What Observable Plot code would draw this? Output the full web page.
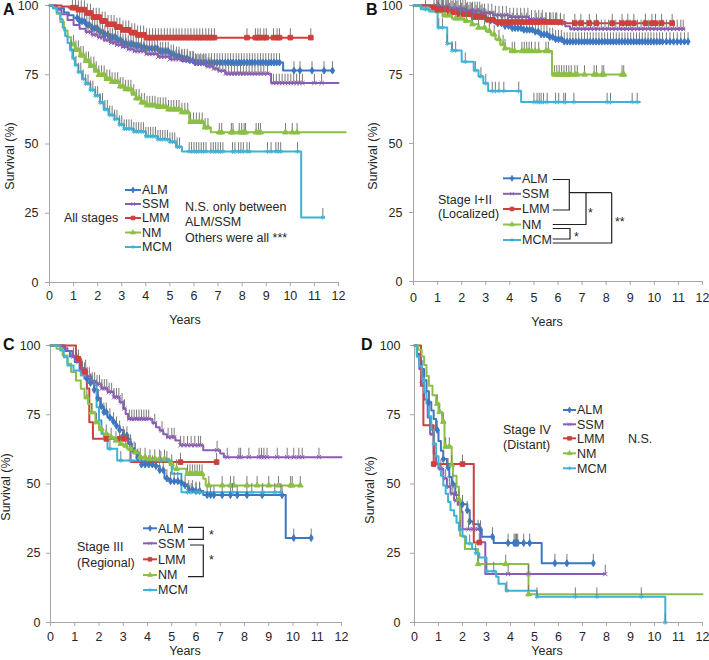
<!DOCTYPE html>
<html><head><meta charset="utf-8">
<script src="https://cdn.jsdelivr.net/npm/d3@7"></script>
<script src="https://cdn.jsdelivr.net/npm/@observablehq/plot@0.6"></script>
<style>
body{margin:0;background:#fff;font-family:"Liberation Sans",Arial,sans-serif}
#wrap{position:relative;width:709px;height:660px;overflow:hidden}
.panel{position:absolute}
svg{overflow:visible}
</style></head><body><div id="wrap"></div>
<script>
const names = ["ALM","SSM","LMM","NM","MCM"];
const colors = ["#3d77c2","#8a5db3","#cf3f3b","#8cbf47","#3fb3d6"];
const symbols = ["diamond","times","square","triangle","asterisk"];
const xTicks = [0,1,2,3,4,5,6,7,8,9,10,11,12];
const yTicks = [0,25,50,75,100];

// ---------- Panel A: All stages ----------
const A_ALM = [[0,100],[0.3,99],[0.6,97.5],[0.8,96.5],[1,95.5],[1.25,94.3],[1.5,93],[1.75,91.8],[2,90.5],[2.25,89.5],[2.5,88.5],[2.75,87.5],[3,86.5],[3.25,86],[3.5,85.5],[3.75,85],[4,84.5],[4.5,83.5],[5,82.5],[5.25,81.8],[5.5,81],[5.75,80.2],[6,79.4],[9.7,76.5],[11.8,76.5]];
const A_SSM = [[0,100],[0.3,98.5],[0.5,96.8],[0.75,94.8],[1,93],[1.25,91.6],[1.5,90.4],[1.75,89.4],[2,88.5],[2.25,87.5],[2.5,86.6],[2.75,85.8],[3,85],[3.25,84.2],[3.5,83.5],[4,82.5],[4.5,81.5],[5,80.6],[5.5,80],[6,79],[6.5,78],[6.8,77.2],[7,76.4],[7.3,75.4],[9.2,72],[12,72]];
const A_LMM = [[0,100],[0.5,99.6],[0.8,99.2],[1.2,98.5],[1.5,97.3],[1.8,95.8],[2.1,94.4],[2.4,93.2],[2.7,92.2],[3,91.2],[3.3,90.2],[3.6,89.4],[4,88.4],[10.85,88.4]];
const A_NM = [[0,100],[0.15,99],[0.3,97],[0.45,94],[0.6,91],[0.75,88.5],[0.9,86],[1.05,84],[1.25,82],[1.45,80],[1.65,78.2],[1.85,76.5],[2.05,75],[2.3,73.5],[2.6,72.5],[2.9,70.8],[3.1,69.8],[3.4,68.2],[3.6,66.5],[3.8,65],[4,64],[4.5,63.5],[4.9,62.5],[5.5,61.5],[5.8,58],[6.4,56],[6.7,54.2],[12.3,54.2]];
const A_MCM = [[0,100],[0.15,99],[0.3,97.5],[0.45,95],[0.55,92],[0.65,89],[0.75,86.5],[0.85,84],[0.95,81],[1.05,78.5],[1.2,76],[1.35,73.5],[1.5,71.8],[1.7,69.5],[1.9,67.5],[2.1,65],[2.25,62.5],[2.45,60.5],[2.7,59],[2.9,57],[3.1,55.5],[3.5,54.5],[4,52.8],[4.5,51.7],[5,50.8],[5.25,49],[5.5,47.3],[10.45,23.5],[11.4,23.5]];
const A_ALM_c = [1.15,1.25,1.35,1.45,1.55,1.65,1.78,1.88,1.98,2.1,2.2,2.3,2.42,2.52,2.62,2.74,2.84,2.95,3.05,3.16,3.27,3.38,3.48,3.6,3.7,3.82,3.93,4.04,4.15,4.26,4.37,4.48,4.6,4.7,4.82,4.93,5.05,5.15,5.27,5.38,5.5,5.6,5.72,5.83,5.95,6.06,6.17,6.28,6.4,6.5,6.62,6.73,6.85,6.96,7.07,7.18,7.3,7.41,7.52,7.63,7.75,7.86,7.97,8.08,8.2,8.31,8.42,8.53,8.65,8.76,8.87,8.98,9.1,9.21,9.32,9.43,9.55,10.15,10.4,10.9,11.4,11.75];
const A_SSM_c = [1.6,1.72,1.84,1.96,2.08,2.2,2.33,2.45,2.57,2.69,2.81,2.93,3.06,3.18,3.3,3.42,3.54,3.66,3.79,3.91,4.03,4.15,4.27,4.4,4.52,4.64,4.76,4.88,5.0,5.13,5.25,5.37,5.49,5.61,5.73,5.86,5.98,6.1,6.22,6.34,6.46,6.59,6.71,6.83,6.95,7.07,7.2,7.32,7.44,7.56,7.68,7.8,7.93,8.05,8.17,8.29,8.41,8.53,8.66,8.78,8.9,9.05,9.3,9.42,9.54,9.66,9.78,9.9,10.02,10.14,10.26,10.38,10.5,11.0,11.3];
const A_LMM_c = [0.95,1.08,1.2,1.32,1.45,1.57,1.7,1.82,1.94,2.06,2.19,2.31,2.43,2.56,2.68,2.8,2.92,3.05,3.17,3.29,3.42,3.54,3.66,3.78,3.91,4.03,4.15,4.28,4.4,4.52,4.64,4.77,4.89,5.01,5.14,5.26,5.38,5.5,5.63,5.75,5.87,6.0,6.12,6.24,6.36,6.49,6.61,6.73,6.85,8.2,8.55,8.65,8.75,8.9,9.0,9.3,9.45,9.55,10.0,10.85];
const A_NM_c = [1.0,1.1,1.2,1.3,1.4,1.52,1.62,1.72,1.84,1.94,2.05,2.16,2.27,2.38,2.5,2.6,2.72,2.83,2.94,3.05,3.16,3.27,3.38,3.5,3.6,3.72,3.83,3.94,4.05,4.16,4.27,4.38,4.5,4.6,4.72,4.83,4.94,5.05,5.16,5.27,5.38,5.5,5.62,5.74,5.86,5.98,6.1,6.22,6.34,6.46,6.58,7.05,7.15,7.55,7.62,7.88,7.98,8.08,8.14,8.58,8.68,8.76,9.8,10.08,10.28];
const A_MCM_c = [0.9,1.0,1.1,1.2,1.3,1.4,1.5,1.6,1.7,1.8,1.9,2.0,2.1,2.2,2.3,2.4,2.5,2.6,2.7,2.8,2.9,3.0,3.1,3.2,3.3,3.4,3.5,3.6,3.7,3.8,3.9,4.0,4.1,4.2,4.3,4.4,4.5,4.6,4.7,4.8,4.9,5.0,5.1,5.2,5.3,5.4,5.8,5.9,6.0,6.1,6.2,6.3,6.4,6.5,6.7,6.8,6.9,7.0,7.1,7.2,7.6,7.7,7.85,7.95,8.05,8.2,8.3,9.05,9.2,9.4,9.5,9.6,10.3,11.35];

// ---------- Panel B: Stage I+II ----------
const B_ALM = [[0,100],[0.8,99.5],[1.2,99],[1.6,98.3],[2,97.6],[2.5,96.8],[2.9,95.5],[3.2,94.5],[3.5,93.5],[3.8,92.6],[4.1,91.8],[4.5,91.2],[5,90.5],[5.3,89.5],[5.6,88.6],[5.9,87.8],[6.2,86.9],[11.45,86.9]];
const B_SSM = [[0,100],[1.0,99.5],[1.5,98.8],[2.2,98],[2.8,97.3],[3.3,96.5],[4,95.8],[4.8,95],[5.5,94.2],[6,93.5],[6.3,92.5],[6.5,91.5],[11.25,91.5]];
const B_LMM = [[0,100],[0.7,99.3],[1.0,98.5],[1.4,97.6],[1.9,96.8],[2.5,95.8],[3.0,94.8],[3.4,94.0],[6.3,93.6],[10.8,93.6]];
const B_NM = [[0,100],[0.3,99.3],[0.6,98.5],[0.9,97.5],[1.2,96.4],[1.6,95.3],[2.1,94.4],[2.4,93.2],[2.7,92],[3.0,90.8],[3.2,89.5],[3.4,87.8],[3.6,86],[3.8,84.5],[4.0,83.5],[5.75,75],[8.8,75]];
const B_MCM = [[0,100],[0.3,98.6],[0.65,97.8],[1.0,92],[1.4,86.2],[1.6,83.7],[2.0,79.6],[2.5,76.5],[2.7,74.3],[2.9,71.8],[3.1,69],[4.47,65],[9.4,65]];
const B_ALM_c = [1.05,1.2,1.4,1.6,1.8,2.0,2.2,2.4,2.6,2.8,3.0,3.2,3.35,3.5,3.65,3.8,3.95,4.1,4.22,4.34,4.46,4.58,4.7,4.82,4.94,5.06,5.18,5.3,5.42,5.54,5.66,5.78,5.9,6.02,6.14,6.26,6.38,6.5,6.62,6.74,6.86,6.98,7.1,7.22,7.34,7.46,7.58,7.7,7.82,7.94,8.06,8.18,8.3,8.42,8.54,8.66,8.78,8.9,9.02,9.14,9.26,9.38,9.5,9.62,9.74,9.86,9.98,10.1,10.22,10.34,10.5,10.65,10.8,10.95,11.1,11.25,11.4];
const B_SSM_c = [0.95,1.05,1.15,1.25,1.35,1.45,1.55,1.65,1.75,1.85,1.95,2.05,2.15,2.25,2.35,2.45,2.55,2.65,2.75,2.85,2.95,3.1,3.25,3.4,3.55,3.7,3.85,4.0,4.15,4.3,4.45,4.6,4.75,4.9,5.05,5.2,5.35,5.5,5.65,5.8,5.95,6.1,6.25,6.6,6.75,6.9,7.05,7.2,7.35,7.5,7.65,7.8,7.95,8.1,8.25,8.4,8.55,8.7,8.85,9.0,9.15,9.3,9.45,9.6,9.75,9.9,10.05,10.2,10.35,10.5,10.65,10.8,10.95,11.1,11.2];
const B_LMM_c = [0.85,1.0,1.2,1.35,1.5,1.7,1.9,2.1,2.3,2.5,2.7,2.9,3.1,3.3,3.5,3.7,3.9,4.1,4.3,4.5,4.7,4.9,5.1,5.3,5.5,5.7,5.9,6.1,6.7,6.95,7.3,7.6,8.25,8.66,8.9,9.15,9.63,9.9,10.05,10.3,10.74];
const B_NM_c = [1.3,1.5,1.75,1.95,2.2,2.45,2.7,2.95,3.15,3.35,3.55,3.72,3.8,4.1,4.2,4.5,4.6,4.7,4.8,4.9,5.05,5.2,5.5,5.6,5.85,5.95,6.05,6.15,6.25,6.35,6.45,6.55,6.7,6.8,7.1,7.5,7.6,7.83,7.9,8.66,8.73];
const B_MCM_c = [0.5,1.05,1.2,1.4,1.6,1.75,2.15,2.57,2.8,3.0,3.27,3.4,3.55,3.75,4.37,5.0,5.13,5.22,5.3,5.4,5.55,5.9,6.03,6.24,6.31,6.66,8.04,8.18,9.08,9.29];

// ---------- Panel C: Stage III ----------
const C_ALM = [[0,100],[0.6,98],[0.8,96],[1.0,94],[1.2,91],[1.4,88],[1.6,86.5],[1.8,84],[1.95,81],[2.05,78],[2.2,76],[2.35,74],[2.55,72.5],[2.7,71],[2.85,69.5],[3.0,67.5],[3.2,64.5],[3.35,62],[3.55,59.5],[3.75,57],[4.3,56.5],[4.5,55],[4.7,52],[4.9,51],[5.3,50.5],[5.5,49.5],[5.7,48],[6.0,47.5],[6.3,46],[9.7,30.5],[10.75,30.5]];
const C_SSM = [[0,100],[0.5,99],[0.7,98],[0.9,96],[1.1,94],[1.3,91.5],[1.5,88.8],[1.7,87],[1.9,86],[2.1,84.5],[2.35,83.2],[2.6,81.3],[2.85,79.5],[3.0,77.2],[3.1,75.3],[3.2,73.5],[4.2,72],[4.35,70.5],[4.5,69.3],[4.65,68],[4.8,66.9],[5.15,65.7],[5.35,64],[6.3,62.2],[7.0,61],[7.15,59.7],[12,59.7]];
const C_LMM = [[0,100],[1.05,95.2],[1.25,90.5],[1.5,84.5],[1.6,72.3],[1.75,66.3],[3.3,57.9],[6.85,57.9]];
const C_NM = [[0,100],[0.25,98.8],[0.5,96.4],[0.7,93.4],[0.85,90.4],[1.05,87.4],[1.25,84.4],[1.4,81.3],[1.55,78.9],[1.7,75.9],[1.85,72.3],[2.0,69.9],[2.15,68.1],[2.4,66.9],[2.65,65.7],[2.85,64.5],[3.0,63.9],[3.15,62.7],[3.4,61.5],[3.65,59.7],[3.95,59.1],[4.9,57.3],[5.05,55.5],[5.6,53.7],[6.3,51.9],[6.4,49.5],[10.3,49.5]];
const C_MCM = [[0,100],[0.4,98.2],[0.55,95.8],[0.7,92.8],[0.95,91],[1.25,89.2],[1.5,87.4],[1.75,86.2],[1.9,77.7],[2.0,72.9],[2.1,68.1],[2.2,66.3],[2.35,62.7],[2.75,58.5],[5.0,53.7],[5.4,47],[9.55,47]];
const C_ALM_c = [1.5,1.65,1.8,1.95,2.1,2.2,2.3,2.45,2.6,2.72,2.85,3.0,3.15,3.3,3.45,3.6,3.75,3.9,4.05,4.2,4.35,4.5,4.65,4.8,4.95,5.1,5.25,5.4,5.55,5.7,5.85,6.0,6.15,6.46,6.6,6.74,7.08,7.42,7.7,8.1,8.73,9.55,10.03,10.75];
const C_SSM_c = [0.95,1.05,1.15,1.3,1.45,1.6,1.72,1.82,1.92,2.02,2.12,2.22,2.32,2.42,2.52,2.62,2.72,2.82,2.95,3.05,3.25,3.35,3.45,3.55,3.65,3.75,3.85,3.95,4.05,4.3,4.6,4.85,5.0,5.1,5.36,5.5,5.65,5.8,5.95,6.1,6.19,6.87,7.29,7.77,7.84,8.18,8.6,8.7,8.8,8.93,9.35,9.76,10.03,10.24,10.38,11.07];
const C_LMM_c = [1.15,1.4,2.3,2.85,3.05,5.36,6.85];
const C_NM_c = [1.5,1.7,1.9,2.1,2.3,2.5,2.7,2.9,3.1,3.3,3.5,3.7,3.9,4.1,4.3,4.5,4.7,5.0,5.2,5.65,5.75,5.85,5.95,6.05,6.15,6.25,6.53,7.08,7.42,7.56,8.1,8.52,9.0,9.4,9.9,9.97,10.3];
const C_MCM_c = [2.45,2.9,3.3,4.55,4.8,5.65,5.8,6.0,6.15,7.5,8.3,8.75,9.25,9.5];

// ---------- Panel D: Stage IV ----------
const D_ALM = [[0,100],[0.1,97],[0.2,94.5],[0.3,91.5],[0.4,87.5],[0.5,83.5],[0.6,79.5],[0.7,76.5],[0.8,73.5],[0.9,69.5],[1.0,65.5],[1.1,62],[1.2,59],[1.35,56],[1.45,52.5],[1.55,50],[1.7,46],[1.85,43],[2.0,42.7],[2.2,40.5],[2.3,36.5],[2.45,35.5],[2.7,33.5],[2.8,31],[3.3,28.7],[5.3,21.4],[7.45,21.4]];
const D_SSM = [[0,100],[0.1,96],[0.2,91.5],[0.3,86],[0.4,80.5],[0.55,74],[0.65,68],[0.8,61],[0.9,57.5],[1.0,55.5],[1.2,52],[1.35,49],[1.5,46.5],[1.65,44],[1.8,42.5],[1.95,40],[2.0,33.7],[2.75,29],[2.95,17.5],[7.95,17.5]];
const D_LMM = [[0,100],[0.27,85.5],[0.37,71.2],[0.8,57.2],[2.47,28.9],[2.7,28.9]];
const D_NM = [[0,100],[0.15,98.5],[0.3,96],[0.4,93],[0.5,89],[0.6,85.5],[0.75,82],[0.9,79],[1.0,76],[1.15,72.5],[1.25,63.5],[1.55,57],[1.6,53],[1.75,49],[1.85,44.5],[1.9,31.3],[2.1,26.5],[2.65,21.1],[4.75,10.2],[12,10.2]];
const D_MCM = [[0,100],[0.1,96],[0.2,92.5],[0.3,88],[0.4,83],[0.5,79],[0.6,74.5],[0.7,69.5],[0.8,64.5],[0.9,60],[1.0,56.5],[1.1,53],[1.2,49.5],[1.3,46.5],[1.4,43.5],[1.5,40.5],[1.65,38.5],[1.75,36],[1.85,33.5],[2.0,31],[2.15,28.5],[2.4,26.5],[2.55,25],[2.7,23.5],[3.0,18.5],[3.4,16.5],[3.5,14],[3.8,11.5],[5.1,9.3],[10.45,0]];
const D_ALM_c = [0.6,0.95,1.2,1.4,1.6,2.0,2.2,2.3,2.75,3.25,3.9,4.15,4.2,4.25,4.3,4.55,4.8,5.85,6.35,7.45];
const D_SSM_c = [0.3,0.75,1.1,1.3,1.45,1.6,1.75,2.25,2.45,2.65,3.9,4.75,7.95];
const D_LMM_c = [0.8,2.0,2.7];
const D_NM_c = [0.95,1.05,1.2,1.3,1.45,1.55,1.85,2.65,3.8,4.75];
const D_MCM_c = [0.35,0.8,1.9,2.3,2.55,3.0,3.3,3.85,5.1,6.7,7.6,9.45,10.45];

const d3Symbols = [d3.symbolDiamond, d3.symbolTimes, d3.symbolSquare, d3.symbolTriangle, d3.symbolAsterisk];
const FONT = '"Liberation Sans", Arial, sans-serif';

function stepAt(curve, t) {
  let v = curve[0][1];
  for (const [tt, s] of curve) if (tt <= t) v = s;
  return v;
}

function makePanel(cfg) {
  const marks = [
    Plot.axisX({ticks: xTicks, tickSize: 4, tickPadding: cfg.xPad, stroke: "#a6a6a6", fill: "#262626", fontSize: 12.5, label: null}),
    Plot.axisY({ticks: yTicks, tickSize: 4, tickPadding: cfg.yPad, stroke: "#a6a6a6", fill: "#262626", fontSize: 12.5, label: null}),
    Plot.ruleY([0], {stroke: "#a6a6a6"}),
    Plot.ruleX([0], {stroke: "#a6a6a6"})
  ];
  cfg.curves.forEach((c, i) => {
    marks.push(Plot.line(c, {x: d => d[0], y: d => d[1], curve: "step-after", stroke: colors[i], strokeWidth: 2}));
  });
  cfg.curves.forEach((c, i) => {
    const rows = cfg.cens[i].map(t => ({t, s: stepAt(c, t)}));
    marks.push(Plot.ruleX(rows, {x: "t", y1: "s", y2: d => d.s + 3.2, stroke: "#7a7a7a", strokeWidth: 1}));
    marks.push(Plot.dot(rows, {x: "t", y: "s", symbol: symbols[i], r: i === 2 ? 2.6 : 2.1, stroke: colors[i], fill: colors[i], strokeWidth: 1}));
  });
  const svg = Plot.plot({
    width: cfg.width, height: cfg.height,
    marginLeft: cfg.m[0], marginRight: cfg.m[1], marginTop: cfg.m[2], marginBottom: cfg.m[3],
    x: {domain: [0, 12]},
    y: {domain: [0, 100]},
    style: {fontFamily: FONT, fontSize: "12.5px", color: "#262626", background: "transparent", overflow: "visible"},
    marks
  });
  const div = document.createElement("div");
  div.className = "panel";
  div.style.left = cfg.left + "px";
  div.style.top = cfg.top + "px";
  div.appendChild(svg);
  document.getElementById("wrap").appendChild(div);

  const g = d3.select(svg).append("g").attr("font-family", FONT).attr("fill", "#262626");
  g.append("text").attr("x", cfg.letter[1]).attr("y", cfg.letter[2]).attr("font-size", 16).attr("font-weight", "bold").attr("fill", "#111").attr("text-anchor", "start").text(cfg.letter[0]);
  g.append("text").attr("transform", `translate(${cfg.yTitle[0]},${cfg.yTitle[1]}) rotate(-90)`).attr("text-anchor", "middle").attr("font-size", 12.5).text("Survival (%)");
  g.append("text").attr("x", cfg.xTitle[0]).attr("y", cfg.xTitle[1]).attr("dy", "0.35em").attr("text-anchor", "middle").attr("font-size", 12.5).text("Years");
  const L = cfg.legend;
  names.forEach((n, i) => {
    const y = L.ys[i];
    g.append("line").attr("x1", L.x1).attr("x2", L.x2).attr("y1", y).attr("y2", y).attr("stroke", colors[i]).attr("stroke-width", 2);
    g.append("path").attr("d", d3.symbol(d3Symbols[i], i === 2 ? 14 : 10)()).attr("transform", `translate(${(L.x1 + L.x2) / 2},${y})`).attr("fill", colors[i]).attr("stroke", colors[i]).attr("stroke-width", 0.8);
    g.append("text").attr("x", L.tx).attr("y", y).attr("dy", "0.35em").attr("text-anchor", "start").attr("font-size", 12.5).text(n);
  });
  (cfg.notes || []).forEach(([x, y, t]) => {
    g.append("text").attr("x", x).attr("y", y).attr("dy", "0.35em").attr("text-anchor", "start").attr("font-size", 12.5).text(t);
  });
  (cfg.brackets || []).forEach(p => {
    g.append("path").attr("d", p).attr("fill", "none").attr("stroke", "#222").attr("stroke-width", 1.2);
  });
}

makePanel({
  left: 0, top: 0, width: 355, height: 330, m: [49, 17, 5, 48], xPad: 5, yPad: 7,
  curves: [A_ALM, A_SSM, A_LMM, A_NM, A_MCM], cens: [A_ALM_c, A_SSM_c, A_LMM_c, A_NM_c, A_MCM_c],
  letter: ["A", 3, 15], yTitle: [14, 156], xTitle: [185, 320],
  legend: {x1: 125, x2: 141, tx: 142, ys: [190, 204, 218, 232.5, 247]},
  notes: [[64, 218, "All stages"], [185, 207, "N.S. only between"], [185, 222, "ALM/SSM"], [185, 238, "Others were all ***"]]
});

makePanel({
  left: 355, top: 0, width: 354, height: 330, m: [58, 7, 5, 49], xPad: 8, yPad: 7,
  curves: [B_ALM, B_SSM, B_LMM, B_NM, B_MCM], cens: [B_ALM_c, B_SSM_c, B_LMM_c, B_NM_c, B_MCM_c],
  letter: ["B", 11, 15], yTitle: [22, 156], xTitle: [192, 322],
  legend: {x1: 148, x2: 166, tx: 167, ys: [178.3, 193.8, 209, 224.5, 240]},
  notes: [[83, 199.3, "Stage I+II"], [83, 213.3, "(Localized)"], [233, 212.7, "*"], [219, 237, "*"], [260, 221.7, "**"]],
  brackets: ["M197.7,179.5H214.3V210H197.7", "M214.3,192.7H256.7", "M231,192.7V224.5H197.7",
             "M197.7,228.5H215V239H197.7", "M197.7,243H256.7V192.7"]
});

makePanel({
  left: 0, top: 330, width: 355, height: 330, m: [50, 14, 15, 38], xPad: 6, yPad: 6,
  curves: [C_ALM, C_SSM, C_LMM, C_NM, C_MCM], cens: [C_ALM_c, C_SSM_c, C_LMM_c, C_NM_c, C_MCM_c],
  letter: ["C", 3, 20], yTitle: [10, 157], xTitle: [185, 321],
  legend: {x1: 143, x2: 157, tx: 158, ys: [198.3, 213.3, 229.3, 245, 260]},
  notes: [[77, 216.7, "Stage III"], [77, 232.7, "(Regional)"], [209, 205, "*"], [209, 229.3, "*"]],
  brackets: ["M188,197.3H203.3V209.3H188", "M190,215H203.3V246.7H188"]
});

makePanel({
  left: 355, top: 330, width: 354, height: 330, m: [59, 7, 15, 38], xPad: 6, yPad: 10,
  curves: [D_ALM, D_SSM, D_LMM, D_NM, D_MCM], cens: [D_ALM_c, D_SSM_c, D_LMM_c, D_NM_c, D_MCM_c],
  letter: ["D", 6, 20], yTitle: [19, 160], xTitle: [192, 321],
  legend: {x1: 208, x2: 221, tx: 222, ys: [80, 94.3, 108.3, 123.3, 138.3]},
  notes: [[148, 100, "Stage IV"], [148, 114.3, "(Distant)"], [273, 108.3, "N.S."]]
});
</script>
</body></html>
